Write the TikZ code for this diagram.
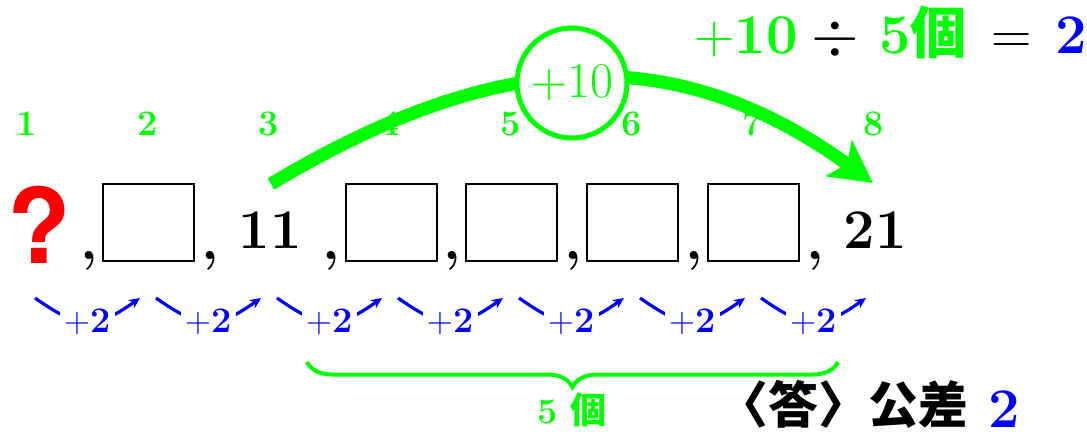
\documentclass[tikz,border=0pt]{standalone}
\usepackage{graphicx}
\usepackage{fontspec}
\newfontfamily\jpfont{Noto Sans CJK JP}
\newfontfamily\qfont{TeX Gyre Heros}
\usetikzlibrary{arrows.meta, decorations.pathreplacing}

\begin{document}
\begin{tikzpicture}[
    x=0.5pt, y=0.5pt,
    blank/.style={
        rectangle,
        draw=black,
        line width=1pt,
        minimum width=45.5pt,
        minimum height=38.5pt,
        inner sep=0pt
    },
    term/.style={
        inner sep=0pt,
        anchor=base,
        font=\fontsize{28}{32}\selectfont\bfseries
    },
    idx/.style={
        inner sep=0pt,
        anchor=base,
        text=green,
        font=\fontsize{18}{20}\selectfont\bfseries
    },
    difflabel/.style={
        fill=white,
        inner sep=2pt,
        text=blue,
        font=\fontsize{18}{20}\selectfont
    },
    diffarrow/.style={
        -{Stealth[length=5.5pt, width=5pt]},
        line width=1.6pt,
        draw=blue
    },
    jumparrow/.style={
        -{Stealth[length=21pt, width=22pt, inset=5pt]},
        line width=6.5pt,
        draw=green
    }
]
    \useasboundingbox (0,0) rectangle (1087,435);

    % --- POSITION NUMBERS (Y = 300) ---
    \foreach \i in {1,...,8}
        \node[idx] (idx\i) at ({27+121*(\i-1)},300) {\i};

    % --- THE SEQUENCE ---
    \node[term, text=red, font=\fontsize{52}{56}\selectfont\qfont\bfseries] (t1) at (39,172) {?};
    \node[term] (t3) at (270,187) {11};
    \node[term] (t8) at (875,187) {21};
    \foreach \k/\x in {2/148, 4/391, 5/511, 6/632, 7/753}
        \node[blank] (t\k) at (\x,213) {};
    \foreach \x [count=\i] in {89, 210, 331, 452, 573, 694, 815}
        \node[term] (comma\i) at (\x,176) {,};

    % --- +2 STEPS UNDER THE SEQUENCE ---
    \foreach \i in {1,...,8}
        \coordinate (d\i) at ({27+121*(\i-1)},137);
    \foreach \i [evaluate=\i as \j using int(\i+1)] in {1,...,7}
        \draw[diffarrow] ([xshift=4pt]d\i) to[bend right=35, looseness=1.35]
            node[difflabel] (plus\i) {+\textbf{2}} ([xshift=-4pt]d\j);

    % --- BIG JUMP FROM 11 TO 21 ---
    \coordinate (jumpfrom) at (271,251);
    \coordinate (jumpto) at (873,252);
    \draw[jumparrow] (jumpfrom) .. controls +(31:272) and +(144:238) .. (jumpto);
    \node[circle, draw=green, line width=2.5pt, fill=white, minimum size=55pt, inner sep=0pt,
          text=green, font=\fontsize{25}{28}\selectfont] (tenbubble) at (572,352) {+10};

    \node[anchor=base west, inner sep=0pt, font=\fontsize{28}{32}\selectfont] (ratio) at (694,381)
        {\textcolor{green}{+\textbf{10}}\hspace{7pt}\raisebox{-0.4pt}{\scalebox{1.23}{$\div$}}\hspace{10pt}\textcolor{green}{\textbf{5}\jpfont\bfseries 個}\hspace{12.5pt}=\hspace{11.5pt}\textcolor{blue}{\textbf{2}}};

    % --- FIVE BLANKS AND THE ANSWER ---
    \coordinate (bracefrom) at (307,73);
    \coordinate (braceto) at (838,73);
    \draw[green, line width=2pt, decorate, decoration={brace, mirror, amplitude=12.5pt}] (bracefrom) -- (braceto);
    \node[idx] (count) at (572,12) {5 {\jpfont 個}};

    \node[anchor=base east, inner sep=0pt, font=\fontsize{25}{28}\selectfont\jpfont\bfseries] (answer) at (1020,8)
        {\raisebox{2pt}{〈答〉公差}\hspace{10pt}\textcolor{blue}{\fontsize{28}{32}\selectfont\rmfamily 2}};

\end{tikzpicture}
\end{document}
